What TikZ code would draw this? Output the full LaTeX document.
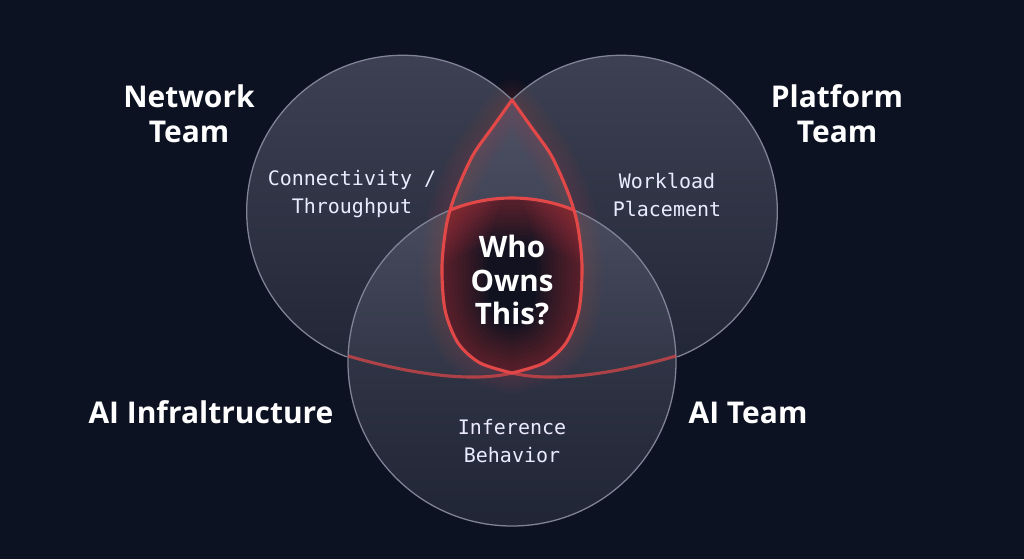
\documentclass[tikz,border=0pt]{standalone}
\usepackage{fontspec}
\usetikzlibrary{fadings}
\newfontfamily\headfont{Open Sans}
\newfontfamily\codefont{DejaVu Sans Mono}
\definecolor{bgnavy}{RGB}{13,18,34}
\definecolor{venntop}{RGB}{111,114,134}
\definecolor{vennbot}{RGB}{52,57,74}
\definecolor{vennedge}{RGB}{128,132,150}
\definecolor{ownred}{RGB}{226,72,72}
\definecolor{lensdark}{RGB}{14,14,28}
\tikzfading[name=arcends, left color=transparent!30, middle color=transparent!0, right color=transparent!30]
\tikzset{
    venn/.style={top color=venntop, bottom color=vennbot, fill opacity=0.5},
    vennline/.style={draw=vennedge, line width=0.9pt},
    redline/.style={draw=ownred, line width=2.2pt, line join=round},
    glow/.style={draw=ownred, line join=round, line width=#1pt},
    team/.style={text=white, align=center, font=\headfont\bfseries\fontsize{21.3}{25}\selectfont},
    owner/.style={text=white, align=center, font=\headfont\bfseries\fontsize{21}{23.5}\selectfont},
    area/.style={text=white!92!blue, align=center, font=\codefont\fontsize{14.2}{19.6}\selectfont},
}
\def\lenspath{plot[smooth] coordinates {(512,100) (492,128) (473,155) (457,190) (447,222) (442,265) (445,310) (458,343) (480,363) (512,373)}
    -- plot[smooth] coordinates {(512,373) (544,363) (566,343) (579,310) (582,265) (577,222) (567,190) (551,155) (532,128) (512,100)} -- cycle}

\begin{document}
\begin{tikzpicture}[x=0.025cm, y=-0.025cm]
    \fill[bgnavy] (0,0) rectangle (1024,559);
    \shade[venn] (512,362) circle[radius=164];
    \shade[venn] (512,100) arc[start angle=-45.5, end angle=-249, radius=156]
    .. controls (424,378) and (479,381) .. (512,373)
    -- plot[smooth] coordinates {(512,373) (544,363) (566,343) (579,310) (582,265) (577,222) (567,190) (551,155) (532,128) (512,100)} -- cycle;
    \shade[venn] (512,100) arc[start angle=-134.5, end angle=69, radius=156]
    .. controls (600,378) and (545,381) .. (512,373)
    -- plot[smooth] coordinates {(512,373) (480,363) (458,343) (445,310) (442,265) (447,222) (457,190) (473,155) (492,128) (512,100)} -- cycle;
    \foreach \w in {30,26,...,6} \draw[glow=\w, draw opacity=0.025] \lenspath;
    \begin{scope}
        \clip \lenspath;
        \clip (512,362) circle[radius=164];
        \fill[lensdark, fill opacity=0.92] (400,190) rectangle (620,380);
        \foreach \w in {64,58,...,4} {
            \draw[glow=\w, draw opacity=0.04] \lenspath;
            \draw[glow=\w, draw opacity=0.04] (512,362) circle[radius=164];
        }
    \end{scope}
    \draw[vennline] (512,100) arc[start angle=-45.5, end angle=-249, radius=156];
    \draw[vennline] (512,100) arc[start angle=-134.5, end angle=69, radius=156];
    \draw[vennline] (512,362) circle[radius=164];
    \begin{scope}
        \clip \lenspath;
        \draw[redline] (512,362) circle[radius=164];
    \end{scope}
    \draw[redline] \lenspath;
    \draw[redline, path fading=arcends] (512,373) .. controls (479,381) and (424,378) .. (348,356)
    (512,373) .. controls (545,381) and (600,378) .. (676,356);
    \node[team] (network) at (189,114) {Network\\Team};
    \node[team] (platform) at (837,114) {Platform\\Team};
    \node[team] (infra) at (211,412) {AI Infraltructure};
    \node[team] (aiteam) at (748,413) {AI Team};
    \node[area] (connect) at (352,194) {Connectivity /\\Throughput};
    \node[area] (workload) at (667,195) {Workload\\Placement};
    \node[area] (inference) at (512,441) {Inference\\Behavior};
    \node[owner] (question) at (512,280) {Who\\Owns\\This?};
\end{tikzpicture}
\end{document}
